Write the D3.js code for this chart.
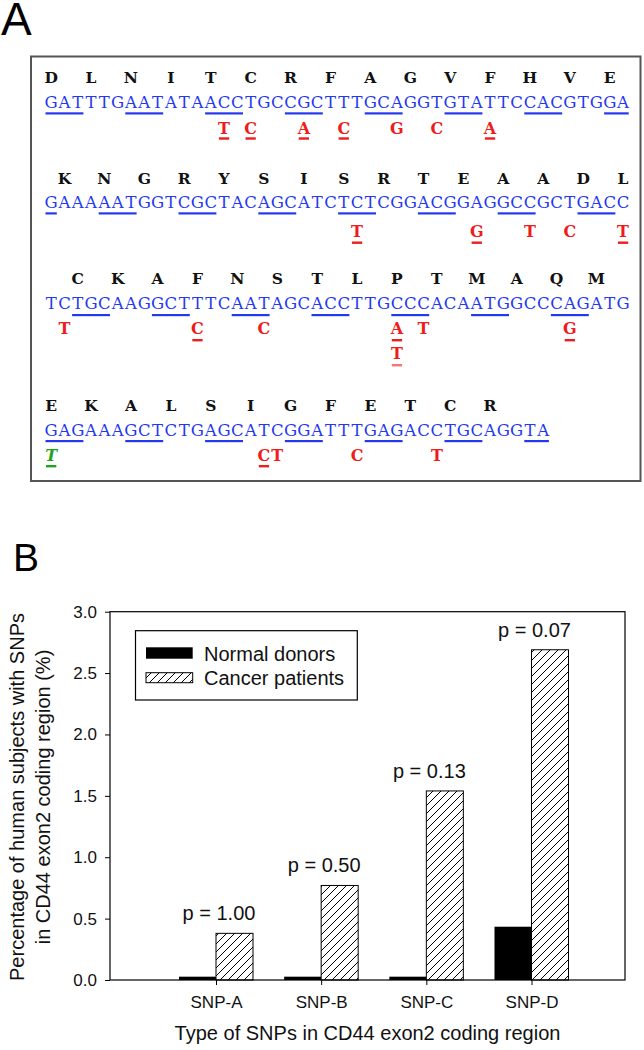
<!DOCTYPE html>
<html><head><meta charset="utf-8">
<script src="https://cdn.jsdelivr.net/npm/d3@7"></script>
<style>body{margin:0;background:#fff} svg{display:block}</style>
</head><body>
<svg id="fig" width="644" height="1050"></svg>
<script>
// ================= DATA =================
// Panel A: CD44 exon2 coding sequence (one string per printed line)
const aminoRows = ["DLNITCRFAGVFHVE", "KNGRYSISRTEAADL", "CKAFNSTLPTMAQM", "EKALSIGFETCR"];
const dnaRows = [
  "GATTTGAATATAACCTGCCGCTTTGCAGGTGTATTCCACGTGGA",
  "GAAAAATGGTCGCTACAGCATCTCTCGGACGGAGGCCGCTGACC",
  "TCTGCAAGGCTTTCAATAGCACCTTGCCCACAATGGCCCAGATG",
  "GAGAAAGCTCTGAGCATCGGATTTGAGACCTGCAGGTA"
];
// SNP variants: row, column in that row, variant base, underlined?, stack level, kind
const snpRowIdx   = [0,0,0,0,0,0,0, 1,1,1,1,1, 2,2,2,2,2,2,2, 3,3,3,3,3];
const snpCol      = [13,15,19,22,26,29,33, 23,32,36,39,43, 1,11,16,26,28,39,26, 0,16,17,23,29];
const snpBase     = ["T","C","A","C","G","C","A", "T","G","T","C","T", "T","C","C","A","T","G","T", "T","C","T","C","T"];
const snpMarked   = [1,1,1,1,0,0,1, 1,1,0,0,1, 0,1,0,1,0,1,1, 1,1,0,0,0];
const snpLevel    = [0,0,0,0,0,0,0, 0,0,0,0,0, 0,0,0,0,0,0,1, 0,0,0,0,0];
const snpKind     = ["r","r","r","r","r","r","r", "r","r","r","r","r", "r","r","r","r","r","r","r", "g","r","r","r","r"];

// Panel B: bar chart
const snpTypes = ["SNP-A", "SNP-B", "SNP-C", "SNP-D"];
const normalDonors = [0.027, 0.027, 0.027, 0.434];
const cancerPatients = [0.38, 0.77, 1.54, 2.69];
const pLabels = ["p = 1.00", "p = 0.50", "p = 0.13", "p = 0.07"];
const yTicks = [0, 0.5, 1.0, 1.5, 2.0, 2.5, 3.0];
const seriesNames = ["Normal donors", "Cancer patients"];

// ================= DRAW =================
const svg = d3.select("#fig");
const SANS = "'Liberation Sans', Arial, sans-serif";
const SEQ = "'DejaVu Serif', 'Courier New', serif";
const BLUE = "#2438f0", RED = "#ee1c1c", GREEN = "#1fa31f";

const defs = svg.append("defs");
const pat = defs.append("pattern").attr("id", "hatch")
  .attr("patternUnits", "userSpaceOnUse").attr("width", 8).attr("height", 8);
pat.append("rect").attr("width", 8).attr("height", 8).attr("fill", "#fff");
pat.append("path").attr("d", "M-2,2 L2,-2 M0,8 L8,0 M6,10 L10,6")
  .attr("stroke", "#000").attr("stroke-width", 1);

// ---------- Panel A ----------
svg.append("text").attr("x", 1).attr("y", 35).attr("font-family", SANS)
  .attr("font-size", 46).text("A");
svg.append("rect").attr("x", 31).attr("y", 56.5).attr("width", 609.5).attr("height", 424.5)
  .attr("fill", "none").attr("stroke", "#555").attr("stroke-width", 2);

const rowLayout = [
  {amino: 77.7, dna: 101.7, ul: 113.3, snp: 128.3, snpUl: 138.3},
  {amino: 178.3, dna: 201.7, ul: 213.3, snp: 231.0, snpUl: 242.5},
  {amino: 278.3, dna: 303.3, ul: 315.0, snp: 328.3, snpUl: 340.0},
  {amino: 405.0, dna: 430.0, ul: 441.0, snp: 455.0, snpUl: 466.0}
];
const levelStep = 25;
const xCol = d3.scaleLinear().domain([0, 44]).range([44.5, 629.7]);
const FS_DNA = 16.5, FS_AA = 15.5, FS_SNP = 16;
const capOff = fs => fs * 0.365;

let g0 = 0;
dnaRows.forEach((seq, r) => {
  const L = rowLayout[r];
  const g = svg.append("g");
  // DNA letters
  g.selectAll("text.dna").data(seq.split("")).join("text").attr("class", "dna")
    .attr("x", (d, i) => xCol(i + 0.5)).attr("y", L.dna + capOff(FS_DNA))
    .attr("text-anchor", "middle").attr("font-family", SEQ).attr("font-size", FS_DNA)
    .attr("fill", BLUE).text(d => d);
  // amino acids above the first base of each codon
  const firstCodon = Math.ceil(g0 / 3);
  const aa = aminoRows[r].split("").map((a, k) => ({a, col: 3 * (firstCodon + k) - g0}));
  g.selectAll("text.aa").data(aa).join("text").attr("class", "aa")
    .attr("x", d => xCol(d.col + 0.5)).attr("y", L.amino + capOff(FS_AA))
    .attr("text-anchor", "middle").attr("font-family", SEQ).attr("font-weight", "bold")
    .attr("font-size", FS_AA).attr("fill", "#111").text(d => d.a);
  // alternate codon underlines
  const runs = []; let cur = null;
  for (let i = 0; i < seq.length; i++) {
    if (Math.floor((g0 + i) / 3) % 2 === 0) {
      if (cur && cur.end === i) cur.end = i + 1;
      else { cur = {start: i, end: i + 1}; runs.push(cur); }
    }
  }
  g.selectAll("rect.cu").data(runs).join("rect").attr("class", "cu")
    .attr("x", d => xCol(d.start) + 1).attr("width", d => xCol(d.end) - xCol(d.start) - 2)
    .attr("y", L.ul - 1).attr("height", 2.2).attr("fill", BLUE);
  g0 += seq.length;
});

const snps = snpRowIdx.map((r, i) => ({r, col: snpCol[i], base: snpBase[i], marked: snpMarked[i],
  level: snpLevel[i], kind: snpKind[i]}));
svg.append("g").selectAll("text").data(snps).join("text")
  .attr("x", d => xCol(d.col + 0.5))
  .attr("y", d => rowLayout[d.r].snp + d.level * levelStep + capOff(FS_SNP))
  .attr("text-anchor", "middle").attr("font-family", SEQ).attr("font-weight", "bold")
  .attr("font-style", d => d.kind === "g" ? "italic" : "normal")
  .attr("font-size", FS_SNP).attr("fill", d => d.kind === "g" ? GREEN : RED).text(d => d.base);
svg.append("g").selectAll("rect").data(snps.filter(d => d.marked)).join("rect")
  .attr("x", d => xCol(d.col) + 1.5).attr("width", xCol(1) - xCol(0) - 3)
  .attr("y", d => rowLayout[d.r].snpUl + d.level * levelStep - 1).attr("height", 2.4)
  .attr("fill", d => d.kind === "g" ? GREEN : RED)
  .attr("opacity", d => d.level ? 0.6 : 1);

// ---------- Panel B ----------
svg.append("text").attr("x", 13).attr("y", 571).attr("font-family", SANS)
  .attr("font-size", 39).text("B");

const plot = {left: 110, right: 625, top: 611.7, bottom: 980};
const y = d3.scaleLinear().domain([0, 3]).range([plot.bottom, plot.top]);
const x = d3.scalePoint().domain(snpTypes).range([216, 531.5]);
const barW = 37;

const bars = svg.append("g");
bars.selectAll("rect.nd").data(snpTypes).join("rect").attr("class", "nd")
  .attr("x", d => x(d) - barW).attr("width", barW)
  .attr("y", (d, i) => y(normalDonors[i])).attr("height", (d, i) => y(0) - y(normalDonors[i]))
  .attr("fill", "#000");
bars.selectAll("rect.cp").data(snpTypes).join("rect").attr("class", "cp")
  .attr("x", d => x(d)).attr("width", barW)
  .attr("y", (d, i) => y(cancerPatients[i])).attr("height", (d, i) => y(0) - y(cancerPatients[i]))
  .attr("fill", "url(#hatch)").attr("stroke", "#000").attr("stroke-width", 1);

svg.append("rect").attr("x", plot.left).attr("y", plot.top)
  .attr("width", plot.right - plot.left).attr("height", plot.bottom - plot.top)
  .attr("fill", "none").attr("stroke", "#000").attr("stroke-width", 1.2);

const yAxis = svg.append("g").attr("transform", `translate(${plot.left},0)`)
  .call(d3.axisLeft(y).tickValues(yTicks).tickFormat(d3.format(".1f"))
    .tickSize(5).tickSizeOuter(0).tickPadding(8));
yAxis.select(".domain").remove();
yAxis.selectAll("text").attr("font-family", SANS).attr("font-size", 17).attr("fill", "#111");

const xAxis = svg.append("g").attr("transform", `translate(0,${plot.bottom})`)
  .call(d3.axisBottom(x).tickSize(5).tickSizeOuter(0).tickPadding(11));
xAxis.select(".domain").remove();
xAxis.selectAll("text").attr("font-family", SANS).attr("font-size", 17).attr("fill", "#111");

svg.append("g").selectAll("text").data(snpTypes).join("text")
  .attr("x", d => x(d) + 3).attr("y", (d, i) => y(cancerPatients[i]) - 13)
  .attr("text-anchor", "middle").attr("font-family", SANS).attr("font-size", 20)
  .attr("fill", "#111").text((d, i) => pLabels[i]);

// legend
const lg = svg.append("g");
lg.append("rect").attr("x", 135.5).attr("y", 630.7).attr("width", 221.8).attr("height", 69.3)
  .attr("fill", "#fff").attr("stroke", "#000").attr("stroke-width", 1.2);
lg.append("rect").attr("x", 146).attr("y", 647.3).attr("width", 46.7).attr("height", 11.4).attr("fill", "#000");
lg.append("rect").attr("x", 146).attr("y", 672.7).attr("width", 46.7).attr("height", 10)
  .attr("fill", "url(#hatch)").attr("stroke", "#000").attr("stroke-width", 1);
lg.selectAll("text").data(seriesNames).join("text")
  .attr("x", 204).attr("y", (d, i) => [660.5, 684.5][i])
  .attr("font-family", SANS).attr("font-size", 20).attr("fill", "#111").text(d => d);

// axis titles
const yt = svg.append("g").attr("font-family", SANS).attr("font-size", 20).attr("fill", "#111")
  .attr("text-anchor", "middle");
yt.append("text").attr("transform", "translate(24,797) rotate(-90)")
  .text("Percentage of human subjects with SNPs");
yt.append("text").attr("transform", "translate(50,797) rotate(-90)")
  .text("in CD44 exon2 coding region (%)");
svg.append("text").attr("x", (plot.left + plot.right) / 2).attr("y", 1040)
  .attr("text-anchor", "middle").attr("font-family", SANS).attr("font-size", 20)
  .attr("fill", "#111").text("Type of SNPs in CD44 exon2 coding region");
</script>
</body></html>
